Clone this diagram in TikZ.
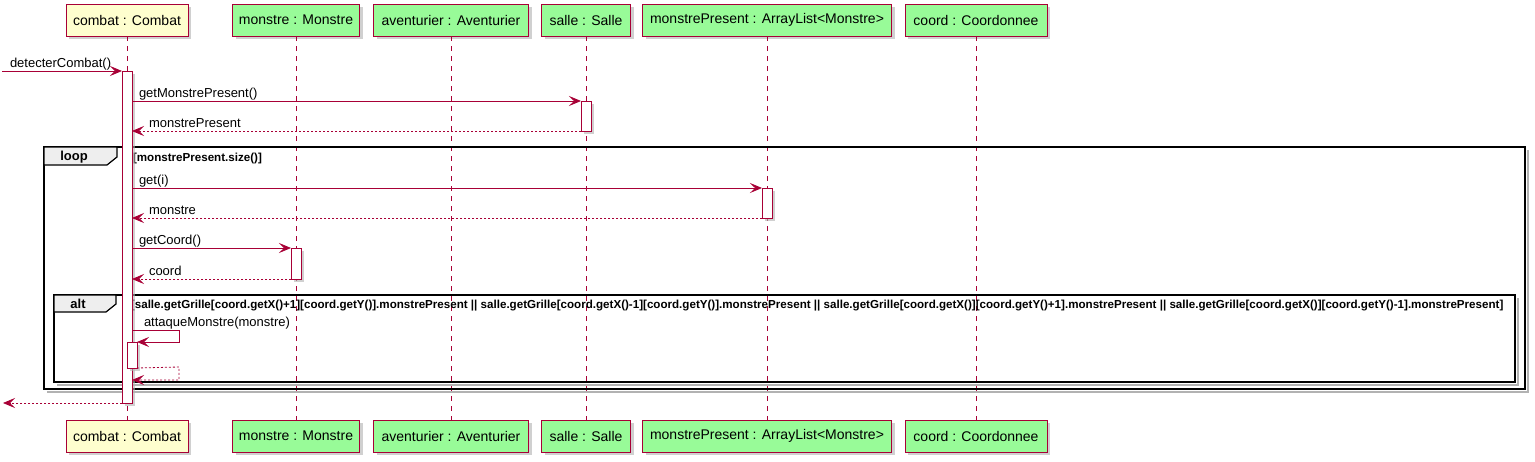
\documentclass[tikz,border=0pt]{standalone}
\usepackage{fontspec}
\setmainfont{Liberation Sans}
\usetikzlibrary{arrows.meta,shadows}
\definecolor{puRed}{HTML}{A80036}
\definecolor{puYel}{HTML}{FEFECE}
\definecolor{puGrn}{HTML}{98FB98}
\definecolor{tabGray}{HTML}{EEEEEE}
\begin{document}
\begin{tikzpicture}[x=1pt,y=-1pt,
 every node/.style={inner sep=0pt, outer sep=0pt},
 part/.style={draw=puRed, line width=1pt, minimum height=32pt, font=\fontsize{14}{16}\selectfont,
   drop shadow={shadow xshift=3pt, shadow yshift=-3pt, fill=black!30, opacity=.6}},
 partY/.style={part, fill=puYel},
 partG/.style={part, fill=puGrn},
 life/.style={draw=puRed, line width=0.8pt, dash pattern=on 5pt off 5pt},
 act/.style={draw=puRed, fill=white, line width=0.8pt, minimum width=10pt,
   drop shadow={shadow xshift=3pt, shadow yshift=-3pt, fill=black!30, opacity=.6}},
 msg/.style={draw=puRed, line width=0.8pt, -{Stealth[length=12pt,width=10pt,inset=5pt]}},
 ret/.style={msg, dash pattern=on 2pt off 2pt},
 lbl/.style={anchor=base west, font=\fontsize{13}{15}\selectfont},
 frame/.style={draw=black, line width=1.5pt},
 tabshape/.style={draw=black, line width=1.2pt, fill=tabGray},
 fshadow/.style={draw=black!30, line width=2.5pt},
 guard/.style={anchor=base west, font=\bfseries\fontsize{11.6}{13}\selectfont},
 ftitle/.style={font=\bfseries\fontsize{13}{15}\selectfont},
]
\fill[white] (0,0) rectangle (1535,461);
\useasboundingbox (0,0) rectangle (1535,461);

% participants (top)
\node[partY, minimum width=122pt] (cT) at (127,20) {combat : Combat};
\node[partG, minimum width=127pt] (moT) at (296,20) {monstre : Monstre};
\node[partG, minimum width=155pt] (avT) at (451,20) {aventurier : Aventurier};
\node[partG, minimum width=89pt] (saT) at (586,20) {salle : Salle};
\node[partG, minimum width=249pt] (mpT) at (767,20) {monstrePresent : ArrayList<Monstre>};
\node[partG, minimum width=142pt] (coT) at (976,20) {coord : Coordonnee};
% participants (bottom)
\node[partY, minimum width=122pt] (cB) at (127,436) {combat : Combat};
\node[partG, minimum width=127pt] (moB) at (296,436) {monstre : Monstre};
\node[partG, minimum width=155pt] (avB) at (451,436) {aventurier : Aventurier};
\node[partG, minimum width=89pt] (saB) at (586,436) {salle : Salle};
\node[partG, minimum width=249pt] (mpB) at (767,436) {monstrePresent : ArrayList<Monstre>};
\node[partG, minimum width=142pt] (coB) at (976,436) {coord : Coordonnee};

% lifelines
\draw[life] (cT.south) -- (cB.north);
\draw[life] (moT.south) -- (moB.north);
\draw[life] (avT.south) -- (avB.north);
\draw[life] (saT.south) -- (saB.north);
\draw[life] (mpT.south) -- (mpB.north);
\draw[life] (coT.south) -- (coB.north);

% frames
\draw[fshadow] (47,392) -| (1528,150);
\draw[frame] (44,147) rectangle (1525,389);
\draw[tabshape] (44,147) -- (117,147) -- (117,157) -- (107,165) -- (44,165) -- cycle;
\node[ftitle] (loopT) at (74,157) {loop};
\node[guard] (loopG) at (133,161) {[monstrePresent.size()]};

\draw[fshadow] (57,385) -| (1518,298);
\draw[frame] (54,295) rectangle (1515,382);
\draw[tabshape] (54,295) -- (116,295) -- (116,304) -- (106,312) -- (54,312) -- cycle;
\node[ftitle] (altT) at (78,304) {alt};
\node[guard] (altG) at (131,308) {[salle.getGrille[coord.getX()+1][coord.getY()].monstrePresent || salle.getGrille[coord.getX()-1][coord.getY()].monstrePresent || salle.getGrille[coord.getX()][coord.getY()+1].monstrePresent || salle.getGrille[coord.getX()][coord.getY()-1].monstrePresent]};

% activations
\node[act, minimum height=332pt] (actC) at (127,237) {};
\node[act, minimum height=30pt] (actS) at (586,116) {};
\node[act, minimum height=30pt] (actM) at (767,203) {};
\node[act, minimum height=31pt] (actMo) at (296,263.5) {};
\node[act, minimum height=26pt] (actC2) at (132,355) {};

% free ends
\coordinate (inP) at (2,71);
\coordinate (outP) at (3,403);

% messages
\draw[msg] (inP) -- (actC.north west);
\node[lbl] (m1) at (10,67) {detecterCombat()};

\draw[msg] (actC.east |- actS.north) -- (actS.north west);
\node[lbl] (m2) at (139,97) {getMonstrePresent()};
\draw[ret] (actS.south west) -- (actC.east |- actS.south);
\node[lbl] (m3) at (149,127) {monstrePresent};

\draw[msg] (actC.east |- actM.north) -- (actM.north west);
\node[lbl] (m4) at (139,184) {get(i)};
\draw[ret] (actM.south west) -- (actC.east |- actM.south);
\node[lbl] (m5) at (149,214) {monstre};

\draw[msg] (actC.east |- actMo.north) -- (actMo.north west);
\node[lbl] (m6) at (139,244) {getCoord()};
\draw[ret] (actMo.south west) -- (actC.east |- actMo.south);
\node[lbl] (m7) at (149,275) {coord};

\draw[msg] (actC.east |- 0,330) -- (179,330) |- (actC2.north east);
\node[lbl] (m8) at (144,326) {attaqueMonstre(monstre)};
\draw[ret] (actC2.south east) -- (179,367) |- (actC.east |- 0,380);

\draw[ret] (actC.south west) -- (outP);
\end{tikzpicture}
\end{document}
